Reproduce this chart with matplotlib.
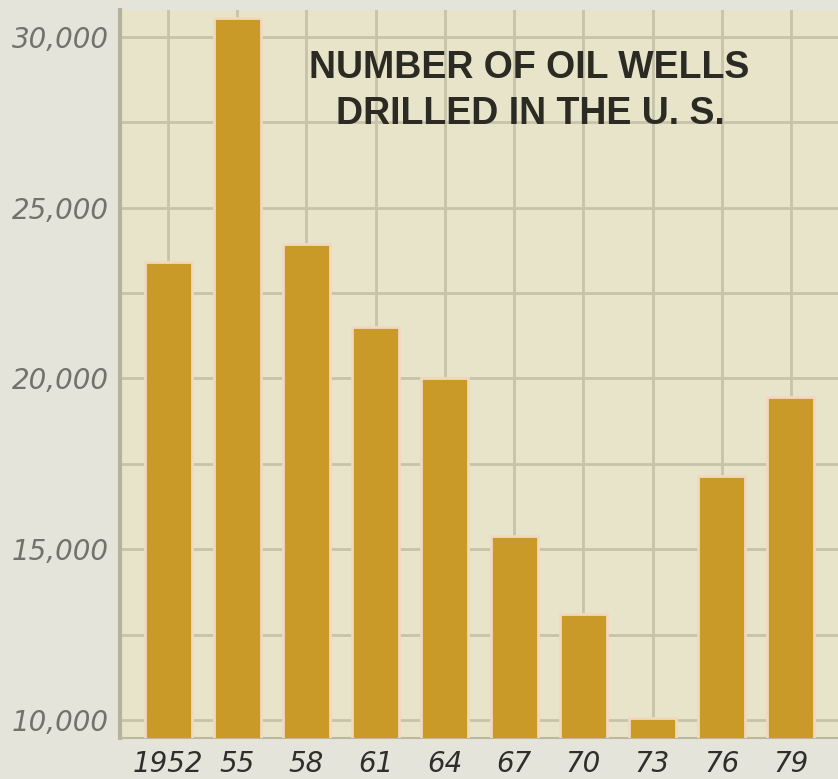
import numpy as np
import matplotlib
matplotlib.use("Agg")
import matplotlib.pyplot as plt
from matplotlib.ticker import MultipleLocator, FuncFormatter

# data
years = ["1952", "55", "58", "61", "64", "67", "70", "73", "76", "79"]
wells = [23400, 30550, 23950, 21500, 20000, 15400, 13100, 10050, 17150, 19450]
y_ticks = [10000, 15000, 20000, 25000, 30000]

paper = "#e5e4db"
grid_col = "#c6c3a9"
bar_col = "#c99a28"

fig = plt.figure(figsize=(8.38, 7.79), dpi=100, facecolor=paper)
ax = fig.add_axes([120 / 838, 1 - 738 / 779, 718 / 838, 728 / 779])
ax.set_facecolor("#e7e4ca")

x = np.arange(len(years))
ax.bar(x, wells, width=0.68, color=bar_col, edgecolor="#f0d9bf", linewidth=2, zorder=3)

ax.set_xlim(-0.694, 9.68)
ax.set_ylim(9473, 30790)

ax.set_xticks(x)
ax.set_xticklabels(years)
ax.set_yticks(y_ticks)
ax.yaxis.set_minor_locator(MultipleLocator(2500))
ax.yaxis.set_major_formatter(FuncFormatter(lambda v, p: f"{int(v):,}"))

ax.grid(True, which="both", axis="y", color=grid_col, linewidth=2, zorder=1)
ax.grid(True, which="major", axis="x", color=grid_col, linewidth=2, zorder=1)

ax.tick_params(axis="both", which="both", length=0)
ax.tick_params(axis="y", pad=8, labelsize=20, labelcolor="#72726a")
ax.tick_params(axis="x", pad=9, labelsize=20, labelcolor="#2e2e2a")
for lab in ax.get_yticklabels() + ax.get_xticklabels():
    lab.set_fontstyle("italic")

for s in ["top", "right"]:
    ax.spines[s].set_visible(False)
ax.spines["left"].set_color("#b3b1a0")
ax.spines["left"].set_linewidth(3)
ax.spines["bottom"].set_color("#bcb89f")
ax.spines["bottom"].set_linewidth(1.5)

fig.text(529 / 838, 1 - 68 / 779, "NUMBER OF OIL WELLS", ha="center", va="center",
         fontsize=27, fontweight="bold", family=["Liberation Sans", "DejaVu Sans"], color="#2b2b24")
fig.text(530 / 838, 1 - 114 / 779, "DRILLED IN THE U. S.", ha="center", va="center",
         fontsize=27, fontweight="bold", family=["Liberation Sans", "DejaVu Sans"], color="#2b2b24")

fig.savefig("out.png", dpi=100, facecolor=paper)
